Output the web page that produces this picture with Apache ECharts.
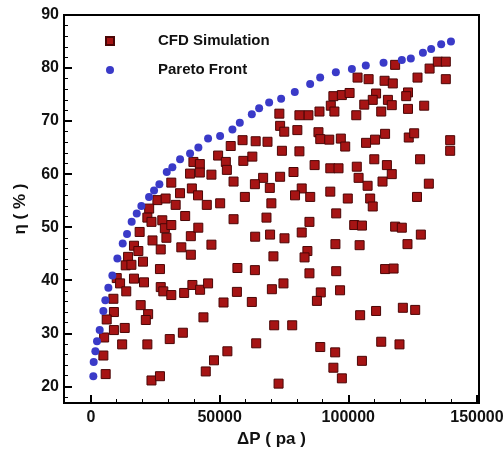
<!DOCTYPE html>
<html>
<head>
<meta charset="utf-8">
<script src="https://cdn.jsdelivr.net/npm/echarts@6/dist/echarts.min.js"></script>
<style>
html,body{margin:0;padding:0;background:#fff;}
#chart{width:503px;height:450px;}
</style>
</head>
<body>
<div id="chart"></div>
<script>
// ---- data (ΔP in Pa, η in %) ----
const cfdSimulation = [
[54300,65.3],[58900,66.4],[64000,66.2],[68600,66.1],[49400,63.5],[52400,62.3],[59200,62.5],[62700,63.3],
[39800,62.3],[42300,61.9],[38500,60.1],[42300,60.3],[46800,59.9],[52800,60.8],[55400,58.6],[66900,59.3],
[63700,58.1],[69500,57.4],[31200,58.4],[34600,56.4],[39200,57.3],[41600,56.0],[25800,55.1],[29000,55.4],
[32900,54.2],[22600,53.5],[45000,54.2],[50200,54.5],[59800,55.7],[70100,54.5],
[118200,80.6],[131600,79.9],[134800,81.2],[137900,81.2],[137900,77.9],[126900,78.2],[103600,78.2],[107900,77.9],
[114100,77.6],[117300,77.1],[94200,74.7],[97500,74.9],[100500,75.3],[110800,75.2],[109500,74.0],[106200,73.1],
[115400,74.0],[116900,73.0],[123200,75.4],[122500,74.7],[129500,72.9],[123200,72.3],[93200,72.9],[94600,71.8],
[103100,71.1],[112800,71.8],[88800,71.8],[84500,71.1],[81000,71.1],[73200,71.4],[73500,69.1],[75100,68.0],
[80200,68.3],[88400,67.9],[89100,66.6],[92600,66.5],[97100,66.7],[98800,65.2],[106900,65.9],[110400,66.5],
[114300,67.6],[123500,66.9],[125600,67.7],[139600,66.4],[139600,64.4],[74200,64.4],[81000,64.3],[110100,62.8],
[115000,61.7],[116900,60.0],[103300,61.4],[93000,61.1],[96200,61.1],[86900,61.7],[78700,60.4],[73500,59.5],
[127900,62.8],[131300,58.2],[104000,59.3],[107500,57.8],[113300,58.6],[81900,57.3],[79300,56.0],[85200,55.7],
[93000,56.7],[99800,55.4],[108500,55.4],[126700,55.7],[109500,53.9],
[95300,52.6],[84900,51.0],[81900,49.0],[69600,48.6],[75200,47.9],[102300,50.4],[105300,50.3],[118200,50.1],
[120800,49.9],[128200,48.6],[95000,46.8],[104400,46.6],[123000,46.8],[84100,45.5],[83000,44.3],[70900,44.5],
[84900,41.3],[95300,41.7],[114300,42.1],[117600,42.2],[74800,39.4],[70300,38.3],[89300,37.7],[96800,38.1],
[87800,36.1],[104600,33.4],[110800,34.2],[121200,34.8],[126000,34.4],[71200,31.5],[78200,31.5],[89100,27.4],
[94900,26.4],[94200,23.5],[97500,21.5],[105300,24.8],[112800,28.4],[119900,27.9],[72900,20.5],
[21900,51.8],[23500,51.0],[27700,51.3],[28700,49.8],[31200,50.4],[36600,52.1],[55400,51.5],[68200,51.8],
[18900,49.1],[23900,47.5],[29300,48.0],[38800,48.3],[41700,49.9],[46800,46.7],[63800,48.2],[16700,46.5],
[18400,45.5],[27100,45.8],[35100,46.2],[38800,44.8],[14400,44.4],[13500,42.8],[15700,42.9],[20200,43.5],
[26800,42.1],[56900,42.3],[63700,41.9],[10000,40.4],[11300,39.4],[16700,40.3],[20600,39.6],[13700,37.9],
[27100,38.7],[28100,37.9],[31200,37.2],[36200,37.6],[39400,39.1],[42400,38.2],[45500,39.4],[56700,37.8],
[8700,36.5],[19300,35.3],[22200,33.6],[21300,32.5],[8900,34.0],[6100,32.6],[51500,35.8],[62500,35.9],
[43700,33.0],[8900,30.6],[13100,31.0],[5100,29.2],[12100,27.9],[21900,27.9],[30600,28.9],[35700,30.1],
[4800,25.8],[5700,22.3],[23500,21.1],[26800,21.9],[44600,22.8],[47800,24.9],[53000,26.6],[64200,28.1]
];
const paretoFront = [
[900,21.9],[1040,24.6],[1690,26.6],[2330,28.5],[3370,30.6],[4800,34.2],[5570,36.2],[6740,38.6],
[8300,40.9],[10240,44.1],[12320,46.9],[14000,48.7],[15800,51.0],[17770,52.6],[19570,54.0],[22560,55.7],
[24500,56.9],[26570,58.1],[29440,60.4],[31620,61.3],[34610,62.8],[38500,63.9],[41730,65.0],[45500,66.7],
[50170,67.2],[54960,68.4],[57830,69.7],[62500,71.3],[65340,72.4],[69230,73.5],[73890,74.2],[79200,75.5],
[85170,77.0],[89060,78.2],[95160,79.2],[101400,79.8],[106800,80.5],[113700,81.0],[120800,81.5],[124300,81.8],
[129000,82.9],[132200,83.6],[136100,84.5],[139900,85.0]
];
const xMajorTicks = [0, 50000, 100000, 150000];
const xMinorTicks = [10000,20000,30000,40000,60000,70000,80000,90000,110000,120000,130000,140000];
const yMajorTicks = [20, 30, 40, 50, 60, 70, 80, 90];
const yMinorTicks = [18,22,24,26,28,32,34,36,38,42,44,46,48,52,54,56,58,62,64,66,68,72,74,76,78,82,84,86,88];
const seriesNames = ['CFD Simulation', 'Pareto Front'];
const xName = 'ΔP ( pa )';
const yName = 'η ( % )';

const FONT = 'Liberation Sans, Arial, sans-serif';
const X_MIN = -10500, X_MAX = 150800, Y_MIN = 16.85, Y_MAX = 90;

const chart = echarts.init(document.getElementById('chart'), null, {renderer: 'canvas'});
const baseAxis = {
  type: 'value', splitLine: {show: false}
};
const plainNum = v => String(Math.round(v));
chart.setOption({
  animation: false,
  backgroundColor: '#ffffff',
  grid: {left: 64, top: 15, right: 24, bottom: 47, show: true, borderColor: '#000', borderWidth: 2,
         backgroundColor: 'transparent', containLabel: false, outerBoundsMode: 'none'},
  legend: {
    orient: 'vertical', left: 100, top: 28, itemGap: 13, itemWidth: 8, itemHeight: 8,
    data: [{name: seriesNames[0], icon: 'rect'}, {name: seriesNames[1], icon: 'circle'}],
    textStyle: {fontFamily: FONT, fontSize: 15, fontWeight: 'bold', color: '#111', lineHeight: 16, padding: [0,0,0,39]}
  },
  xAxis: [
    Object.assign({}, baseAxis, {
      min: X_MIN, max: X_MAX, position: 'bottom',
      name: xName, nameLocation: 'middle', nameGap: 28,
      nameTextStyle: {fontFamily: FONT, fontSize: 17, fontWeight: 'bold', color: '#111'},
      axisLine: {show: true, onZero: false, lineStyle: {color: '#000', width: 2}},
      axisTick: {show: true, inside: true, length: 8, customValues: xMajorTicks, lineStyle: {color: '#000', width: 2}},
      axisLabel: {show: true, customValues: xMajorTicks, formatter: plainNum, margin: 7, fontFamily: FONT, fontSize: 16, fontWeight: 'bold', color: '#111'}
    }),
    Object.assign({}, baseAxis, {
      min: X_MIN, max: X_MAX, position: 'bottom', gridIndex: 0,
      axisLine: {show: false, onZero: false},
      axisTick: {show: true, inside: true, length: 4, customValues: xMinorTicks, lineStyle: {color: '#000', width: 1}},
      axisLabel: {show: false}
    })
  ],
  yAxis: [
    Object.assign({}, baseAxis, {
      min: Y_MIN, max: Y_MAX, position: 'left',
      name: yName, nameLocation: 'middle', nameGap: 35, nameRotate: 90,
      nameTextStyle: {fontFamily: FONT, fontSize: 17, fontWeight: 'bold', color: '#111'},
      axisLine: {show: true, onZero: false, lineStyle: {color: '#000', width: 2}},
      axisTick: {show: true, inside: true, length: 8, customValues: yMajorTicks, lineStyle: {color: '#000', width: 2}},
      axisLabel: {show: true, customValues: yMajorTicks, formatter: plainNum, margin: 5, fontFamily: FONT, fontSize: 16, fontWeight: 'bold', color: '#111'}
    }),
    Object.assign({}, baseAxis, {
      min: Y_MIN, max: Y_MAX, position: 'left', gridIndex: 0,
      axisLine: {show: false, onZero: false},
      axisTick: {show: true, inside: true, length: 4, customValues: yMinorTicks, lineStyle: {color: '#000', width: 1}},
      axisLabel: {show: false}
    })
  ],
  series: [
    {
      name: seriesNames[0], type: 'scatter', xAxisIndex: 0, yAxisIndex: 0,
      symbol: 'rect', symbolSize: 9, data: cfdSimulation,
      itemStyle: {color: '#a61414', borderColor: '#4a0606', borderWidth: 1, opacity: 1}
    },
    {
      name: seriesNames[1], type: 'scatter', xAxisIndex: 0, yAxisIndex: 0,
      symbol: 'circle', symbolSize: 8, data: paretoFront,
      itemStyle: {color: '#3a3ac8', opacity: 1}
    }
  ]
});
</script>
</body>
</html>
